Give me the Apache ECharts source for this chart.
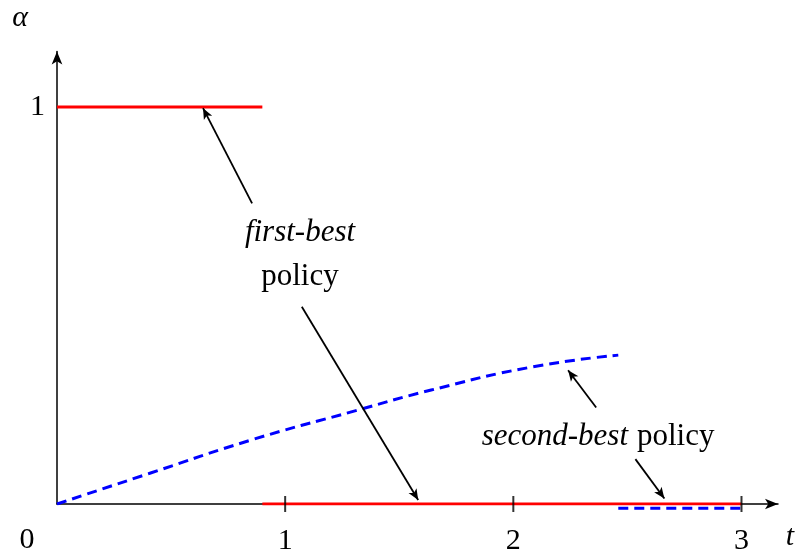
<!DOCTYPE html>
<html>
<head>
<meta charset="utf-8">
<script src="https://cdn.jsdelivr.net/npm/echarts@6/dist/echarts.min.js"></script>
<style>
  html, body { margin: 0; padding: 0; background: #fff; }
  #chart { width: 796px; height: 552px; }
</style>
</head>
<body>
<div id="chart"></div>
<script>
  // first-best policy: alpha = 1 until the switch time, then 0
  const firstBestHigh = [[0, 1], [0.9, 1]];
  const firstBestLow = [[0.9, 0], [3, 0]];
  // second-best policy: rising curve, then drops to 0
  const secondBestCurve = [[0, 0], [0.41, 0.078], [0.85, 0.161], [1.29, 0.232],
    [1.64, 0.287], [2.08, 0.345], [2.46, 0.375]];
  const secondBestLow = [[2.46, -0.011], [3, -0.011]];
  const xTicks = [1, 2, 3];
  // annotation arrows: [tail, head] in data coords
  const arrows = [
    [[0.855, 0.757], [0.64, 0.997]],
    [[1.073, 0.497], [1.583, 0.01]],
    [[2.363, 0.243], [2.24, 0.337]],
    [[2.535, 0.113], [2.662, 0.014]]
  ];

  const serif = "'Liberation Serif', 'DejaVu Serif', serif";
  const chart = echarts.init(document.getElementById('chart'));

  chart.setOption({
    animation: false,
    backgroundColor: '#fff',
    grid: { left: 57, right: 18, top: 51.4, bottom: 48, containLabel: false, outerBoundsMode: 'none' },
    xAxis: {
      type: 'value',
      min: 0,
      max: 3.16,
      interval: 1,
      splitLine: { show: false },
      axisTick: { show: false },
      axisLine: {
        onZero: false,
        symbol: ['none', 'arrow'],
        symbolSize: [8, 13],
        lineStyle: { color: '#000', width: 1.5 }
      },
      axisLabel: {
        margin: 22,
        color: '#000',
        fontFamily: serif,
        fontSize: 30,
        formatter: v => (v >= 1 && Number.isInteger(v)) ? String(v) : ''
      }
    },
    yAxis: {
      type: 'value',
      min: 0,
      max: 1.14,
      interval: 1,
      splitLine: { show: false },
      axisTick: { show: false },
      axisLine: {
        show: true,
        onZero: false,
        symbol: ['none', 'arrow'],
        symbolSize: [8, 13],
        lineStyle: { color: '#000', width: 1.5 }
      },
      axisLabel: {
        margin: 12,
        color: '#000',
        fontFamily: serif,
        fontSize: 30,
        formatter: v => v === 1 ? '1' : ''
      }
    },
    graphic: [
      { type: 'text', x: 20, y: 18,
        style: { text: 'α', font: 'italic 30px ' + serif, fill: '#000',
          align: 'center', verticalAlign: 'middle' } },
      { type: 'text', x: 790, y: 537,
        style: { text: 't', font: 'italic 30px ' + serif, fill: '#000',
          align: 'center', verticalAlign: 'middle' } },
      { type: 'text', x: 27, y: 540,
        style: { text: '0', font: '30px ' + serif, fill: '#000',
          align: 'center', verticalAlign: 'middle' } },
      { type: 'text', x: 300, y: 233,
        style: { text: 'first-best', font: 'italic 31px ' + serif, fill: '#000',
          align: 'center', verticalAlign: 'middle' } },
      { type: 'text', x: 300, y: 277,
        style: { text: 'policy', font: '31px ' + serif, fill: '#000',
          align: 'center', verticalAlign: 'middle' } },
      { type: 'text', x: 628, y: 437,
        style: { text: 'second-best', font: 'italic 31px ' + serif, fill: '#000',
          align: 'right', verticalAlign: 'middle' } },
      { type: 'text', x: 637, y: 437,
        style: { text: 'policy', font: '31px ' + serif, fill: '#000',
          align: 'left', verticalAlign: 'middle' } }
    ],
    series: [
      {
        type: 'line', data: secondBestCurve, smooth: true, showSymbol: false,
        lineStyle: { color: '#0000ff', width: 3, type: [10, 6] }, z: 3
      },
      {
        type: 'line', data: secondBestLow, showSymbol: false, clip: false,
        lineStyle: { color: '#0000ff', width: 3, type: [10, 6] }, z: 3
      },
      {
        type: 'line', data: firstBestHigh, showSymbol: false,
        lineStyle: { color: '#ff0000', width: 3 }, z: 4
      },
      {
        type: 'line', data: firstBestLow, showSymbol: false,
        lineStyle: { color: '#ff0000', width: 3 }, z: 4
      },
      {
        type: 'scatter', data: xTicks.map(v => [v, 0]), symbol: 'rect',
        symbolSize: [2, 16], itemStyle: { color: '#000' }, z: 5, silent: true
      },
      {
        type: 'line', data: [], silent: true, z: 6,
        markLine: {
          silent: true,
          symbol: ['none', 'arrow'],
          symbolSize: [7, 11],
          label: { show: false },
          lineStyle: { color: '#000', width: 1.8, type: 'solid' },
          data: arrows.map(a => [{ coord: a[0] }, { coord: a[1] }])
        }
      }
    ]
  });
</script>
</body>
</html>
